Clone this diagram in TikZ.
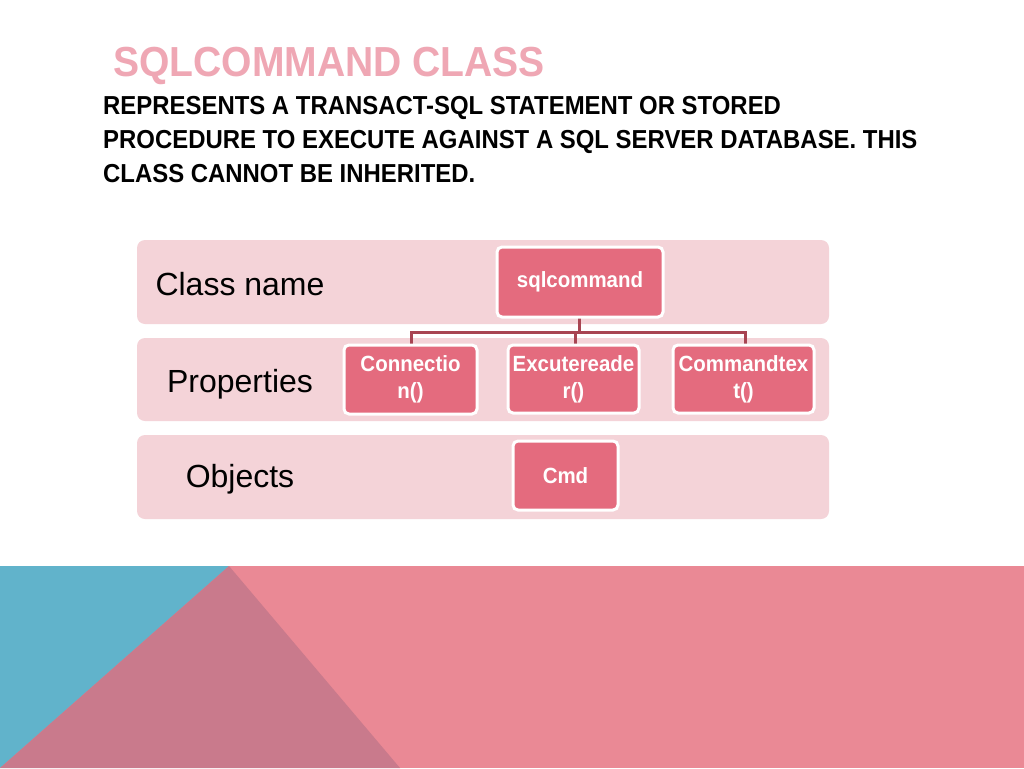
\documentclass[tikz,border=0pt]{standalone}
\usepackage{fontspec}
\setmainfont{Liberation Sans}
\newfontfamily\narrowfont[FakeStretch=0.92]{Liberation Sans}
\newfontfamily\titlefont[FakeStretch=0.93]{Liberation Sans}
\newfontfamily\boxfont[FakeStretch=0.93]{Liberation Sans}
\definecolor{band}{HTML}{F4D3D8}
\definecolor{boxfill}{HTML}{E46B7E}
\definecolor{linecol}{HTML}{A84452}
\definecolor{titlecol}{HTML}{EFA7B4}
\definecolor{bblue}{HTML}{61B3CB}
\definecolor{bmauve}{HTML}{C97A8C}
\definecolor{bpink}{HTML}{EA8995}
\tikzset{
  bandbox/.style={fill=band, rounded corners=8pt},
  itembox/.style={draw=white, line width=3pt, fill=boxfill, rounded corners=5pt,
    text=white, align=center, inner sep=0pt, font=\boxfont\bfseries\fontsize{22}{27}\selectfont},
  rowlabel/.style={anchor=base, font=\fontsize{32}{36}\selectfont},
  subline/.style={anchor=base west, inner sep=0pt, font=\narrowfont\bfseries\fontsize{26}{26}\selectfont},
  conn/.style={draw=linecol, line width=3pt}
}
\begin{document}
\begin{tikzpicture}[x=1pt,y=-1pt]
\useasboundingbox (0,0) rectangle (1024,768);
\fill[white] (0,0) rectangle (1024,768);
% bottom decoration
\fill[bpink] (0,566) rectangle (1024,768);
\fill[bblue] (0,566) -- (229,566) -- (0,768) -- cycle;
\fill[bmauve] (229,566) -- (400,768) -- (0,768) -- cycle;
% title
\node[anchor=base west, inner sep=0pt, text=titlecol, font=\titlefont\bfseries\fontsize{42}{42}\selectfont] (title) at (113,76) {SQLCOMMAND CLASS};
\node[subline] (sub1) at (103,114) {REPRESENTS A TRANSACT-SQL STATEMENT OR STORED};
\node[subline] (sub2) at (103,148) {PROCEDURE TO EXECUTE AGAINST A SQL SERVER DATABASE. THIS};
\node[subline] (sub3) at (103,182) {CLASS CANNOT BE INHERITED.};
% bands
\fill[bandbox] (137,240) rectangle (829,324);
\fill[bandbox] (137,338) rectangle (829,421);
\fill[bandbox] (137,435) rectangle (829,519);
\node[rowlabel] (l1) at (240,295) {Class name};
\node[rowlabel] (l2) at (240,392) {Properties};
\node[rowlabel] (l3) at (240,487) {Objects};
% connectors
\coordinate (j) at (579,332);
\draw[conn] (579,300) -- (j);
\draw[conn] (j) -| (411,360);
\draw[conn] (j) -| (575,360);
\draw[conn] (j) -| (745,360);
% boxes
\node[itembox, minimum width=166pt, minimum height=70pt] (sql) at (580,282) {sqlcommand};
\node[itembox, minimum width=133pt, minimum height=69pt] (c1) at (410.5,379.5) {Connectio\\n()};
\node[itembox, minimum width=131pt, minimum height=68pt] (c2) at (573.5,379) {Excutereade\\r()};
\node[itembox, minimum width=141pt, minimum height=68pt] (c3) at (743.5,379) {Commandtex\\t()};
\node[itembox, minimum width=105pt, minimum height=69pt] (cmd) at (565.5,475.5) {Cmd};
\end{tikzpicture}
\end{document}
